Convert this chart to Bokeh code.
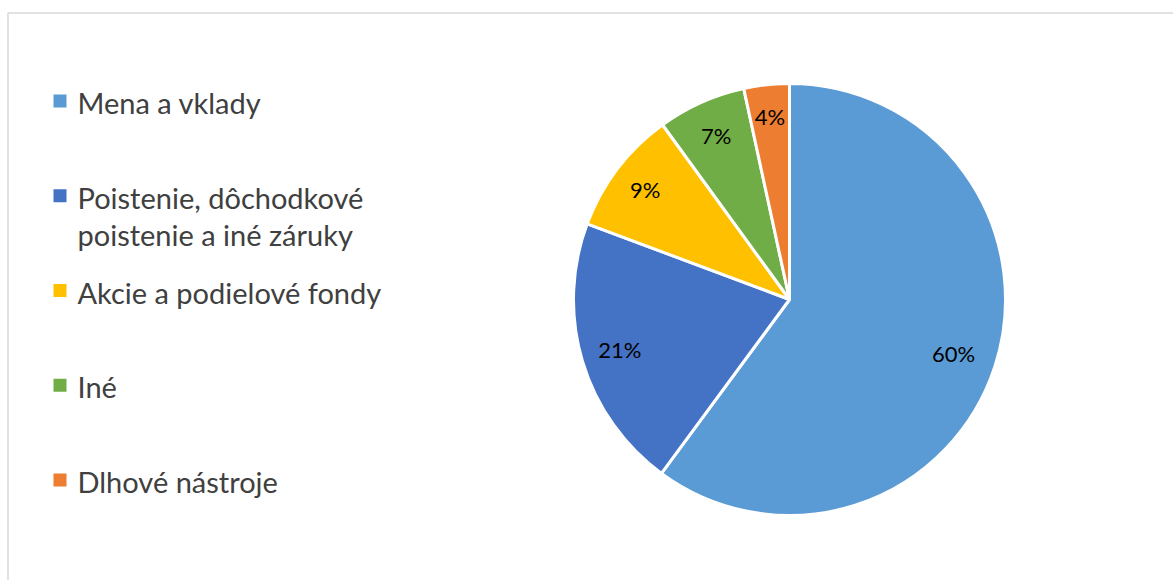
import numpy as np
from bokeh.plotting import figure
from bokeh.models import Range1d, ColumnDataSource
from bokeh.core.properties import value
from bokeh.embed import file_html
from bokeh.resources import INLINE

# ---- data ----
categories = ["Mena a vklady",
              "Poistenie, dôchodkové\npoistenie a iné záruky",
              "Akcie a podielové fondy",
              "Iné",
              "Dlhové nástroje"]
shares = [60.1, 20.6, 9.3, 6.6, 3.4]
labels = ["60%", "21%", "9%", "7%", "4%"]
colors = ["#5B9BD5", "#4472C4", "#FFC000", "#70AD47", "#ED7D31"]

W, H = 1173, 580
FONT = "Lato"

p = figure(width=W, height=H, x_range=Range1d(0, W), y_range=Range1d(0, H),
           output_backend="svg", toolbar_location=None, min_border=0)
p.axis.visible = False
p.grid.visible = False
p.outline_line_color = None
p.background_fill_color = "white"
p.border_fill_color = "white"

# chart area border
p.quad(left=[7.5], right=[W + 10], top=[H - 12.5], bottom=[-10],
       fill_color=None, line_color="#D9D9D9", line_width=1.5)

# ---- pie ----
cx, cy, r = 789, H - 299, 216
fr = np.array(shares) / sum(shares)
cum = np.concatenate([[0], np.cumsum(fr)])
start = np.pi / 2 - 2 * np.pi * cum[:-1]
end = np.pi / 2 - 2 * np.pi * cum[1:]
mid = (start + end) / 2
src = ColumnDataSource(dict(start=start, end=end, color=colors))
p.wedge(x=cx, y=cy, radius=r, start_angle="start", end_angle="end",
        direction="clock", fill_color="color", line_color="white",
        line_width=3, source=src)

lr = np.array([0.80, 0.82, 0.84, 0.83, 0.85]) * r
p.text(x=cx + lr * np.cos(mid), y=cy + lr * np.sin(mid), text=labels,
       text_font=value(FONT), text_font_size="22px", text_color="#000000",
       text_align="center", text_baseline="middle")

# ---- legend ----
row0, step, line_gap = H - 100.5, 94.75, 37
lx, ly, lt = [], [], []
for i, c in enumerate(categories):
    for j, line in enumerate(c.split("\n")):
        lx.append(77)
        ly.append(row0 - 1.5 - i * step - j * line_gap)
        lt.append(line)
sq_y = [row0 - i * step for i in range(len(categories))]
p.rect(x=[59.5] * len(categories), y=sq_y, width=13, height=13,
       fill_color=colors, line_color=None)
p.text(x=lx, y=ly, text=lt, text_font=value(FONT), text_font_size="29px",
       text_color="#404040", text_align="left", text_baseline="middle")

open("out.html", "w").write(file_html(p, INLINE))
